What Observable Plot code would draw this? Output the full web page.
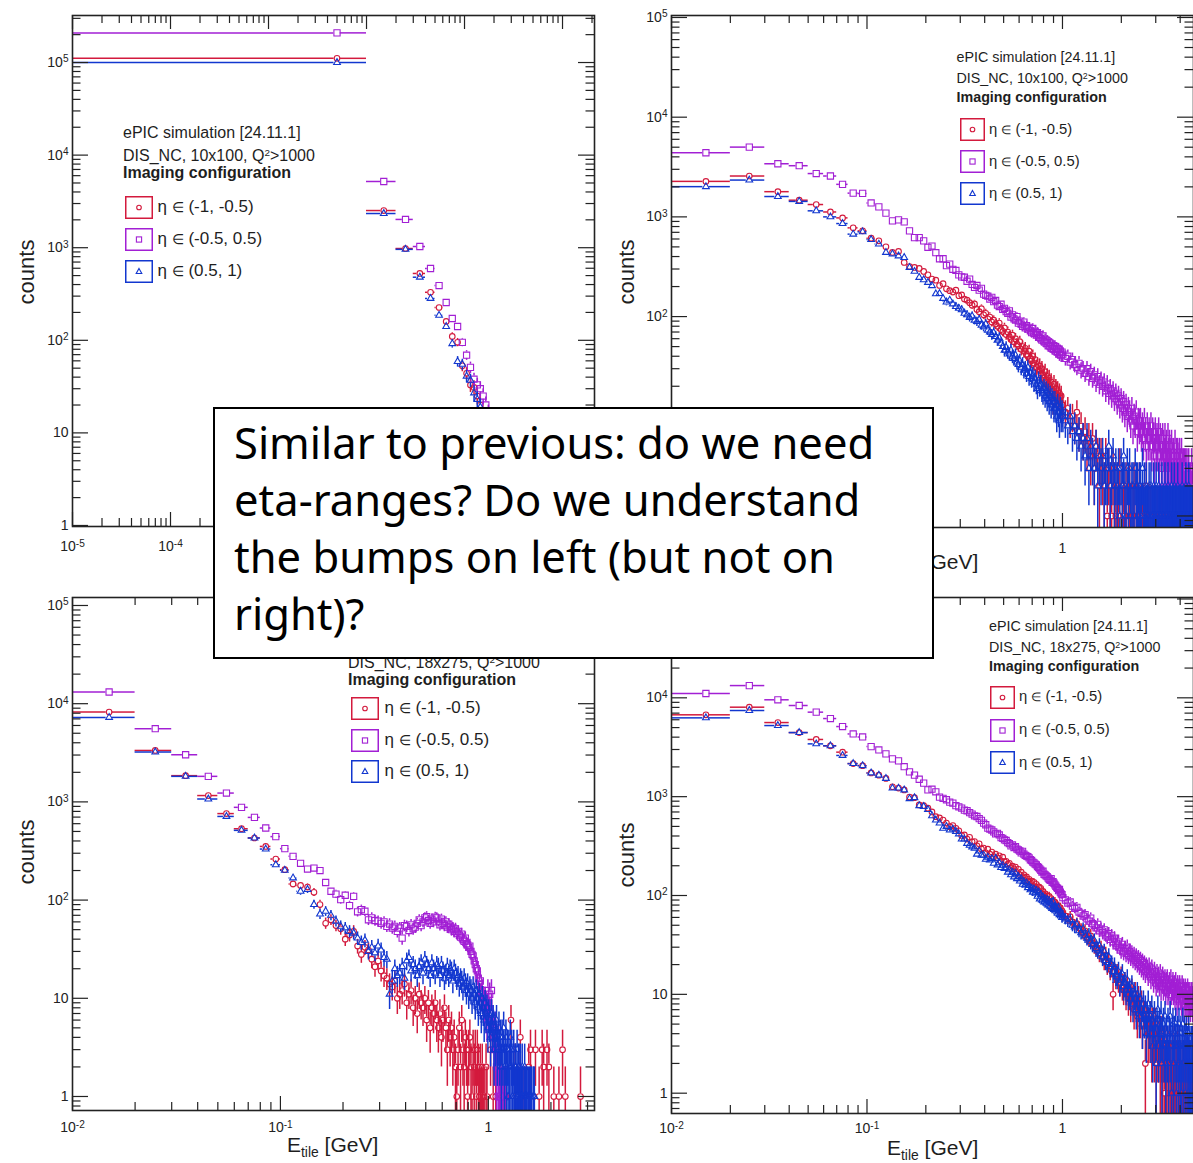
<!DOCTYPE html>
<html><head><meta charset="utf-8">
<script src="https://cdn.jsdelivr.net/npm/d3@7"></script>
<script src="https://cdn.jsdelivr.net/npm/@observablehq/plot@0.6"></script>
<style>
body{margin:0;background:#fff;}
#page{position:relative;width:1193px;height:1163px;overflow:hidden;background:#fff;font-family:"Liberation Sans",Arial,Helvetica,sans-serif;color:#1e1e1e;}
.pan{position:absolute;}
.t{position:absolute;white-space:nowrap;}
sup.q{font-size:0.62em;vertical-align:0.5em;line-height:0;}
sub.s{font-size:0.66em;vertical-align:-0.38em;line-height:0;}
span.el{font-size:0.82em;}
#note{position:absolute;left:213px;top:407px;width:721px;height:252px;box-sizing:border-box;border:2px solid #000;background:#fff;padding:5px 0 0 19px;font-family:"Noto Sans","Open Sans",sans-serif;font-size:43.5px;line-height:57px;color:#000;white-space:nowrap;}
</style></head>
<body><div id="page"></div>
<script>
// ================= DATA =================
const etaLabels = ["η ∈ (-1, -0.5)", "η ∈ (-0.5, 0.5)", "η ∈ (0.5, 1)"];
const headTop = ["ePIC simulation [24.11.1]", "DIS_NC, 10x100, Q<sup class='q'>2</sup>>1000", "Imaging configuration"];
const headBot = ["ePIC simulation [24.11.1]", "DIS_NC, 18x275, Q<sup class='q'>2</sup>>1000", "Imaging configuration"];
const noteLines = ["Similar to previous: do we need", "eta-ranges? Do we understand", "the bumps on left (but not on", "right)?"];
const yTitle = "counts";
const xTitle = "E<sub class='s'>tile</sub> [GeV]";

// bin structure (bin width 0.01 GeV)
const binStep = 0.01;
const tlStart = 0.005;      // top-left: first bin centre
const binStart = 0.015;     // other panels: first visible bin centre
const tailStart = 1.005, tailStep = 0.03;  // sampled tail bins above 1 GeV

// ---- top-left (10x100) ----
const tlRed  = [111000, 2520, 980, 527, 330, 226, 160, 110, 95, 53, 44, 33, 31, 25, 20, 15, 12, 8, 6, 4, 3, 2, 1];
const tlMag  = [209000, 5190, 2020, 1030, 596, 390, 256, 172, 141, 95, 69, 51, 38, 33, 30, 25, 20, 16, 12, 9, 6, 4, 3, 1];
const tlBlue = [100000, 2340, 960, 480, 283, 186, 141, 92, 59, 55, 41, 37, 27, 23, 19, 14, 10, 7, 5, 3, 2, 1];

// ---- top-right (10x100) ----
const trRed = [2270, 2570, 1790, 1470, 1330, 1120, 977, 776, 724, 612,
  575, 501, 440, 450, 349, 318, 311, 304, 284, 262,
  238, 232, 205, 214, 190, 182, 176, 184, 162, 165,
  150, 146, 138, 130, 134, 118, 112, 120, 104, 108,
  95, 99, 88, 92, 84, 80, 86, 74, 71, 77,
  66, 70, 63, 59, 65, 56, 60, 53, 51, 56,
  47, 50, 45, 48, 42, 40, 45, 38, 36, 40,
  34, 37, 31, 33, 29, 32, 27, 30, 26, 24,
  28, 23, 25, 21, 24, 20, 22, 18, 14, 21,
  17, 19, 16, 18, 15, 17, 14, 16, 13];
const trRedTail = [13, 11, 12, 9, 10, 8, 11, 7, 8, 6,
  7, 5, 6, 4, 6, 3, 5, 4, 2, 4,
  3, 2, 4, 1, 3, 2, 1, 3, 2, 1,
  2, 1, 3, 0, 2, 1, 1, 2, 0, 1,
  2, 1, 0, 1, 2, 0, 1, 1, 0, 2,
  1, 0, 1, 1, 0, 1, 2, 0, 1, 0,
  1, 1, 0, 1, 0, 0, 1, 0, 1, 0,
  0, 1, 0, 1, 0, 0, 1, 0, 0, 1,
  0, 0, 1, 0, 1, 0, 0, 0, 1, 0,
  1, 0, 0, 1, 0, 0, 0, 1, 0, 0,
  0, 1, 0, 0, 0, 1, 0, 0, 0, 0,
  1, 0, 0, 0, 0, 1, 0, 0, 0, 0,
  0, 0, 1, 0];
const trMag = [4400, 5010, 3410, 3260, 2720, 2570, 2120, 1730, 1720, 1380,
  1260, 1090, 912, 933, 890, 724, 620, 620, 575, 495,
  510, 437, 380, 380, 324, 336, 298, 290, 262, 250,
  248, 226, 238, 210, 196, 205, 184, 192, 168, 163,
  160, 150, 156, 141, 145, 130, 126, 133, 118, 121,
  112, 108, 114, 99, 104, 95, 92, 100, 86, 90,
  84, 80, 88, 77, 81, 75, 78, 72, 69, 76,
  68, 71, 65, 69, 62, 66, 60, 58, 64, 56,
  59, 54, 57, 51, 55, 50, 53, 48, 51, 47,
  50, 45, 48, 44, 47, 42, 45, 41, 44];
const trMagTail = [42, 38, 40, 35, 37, 33, 31, 34, 29, 30,
  27, 30, 25, 28, 24, 26, 22, 25, 21, 23,
  20, 22, 18, 21, 17, 19, 16, 18, 15, 17,
  14, 16, 13, 15, 12, 14, 11, 13, 10, 12,
  11, 9, 12, 8, 10, 9, 11, 7, 9, 8,
  9, 7, 8, 6, 9, 7, 5, 8, 6, 7,
  6, 8, 5, 7, 6, 4, 7, 5, 6, 5,
  7, 4, 6, 5, 3, 6, 5, 4, 6, 4,
  5, 3, 6, 4, 5, 3, 4, 5, 2, 4,
  4, 3, 5, 2, 4, 3, 4, 2, 3, 4,
  3, 2, 4, 3, 2, 3, 1, 3, 2, 3,
  2, 3, 1, 2, 3, 1, 2, 2, 1, 3,
  1, 2, 1, 2];
const trBlue = [2010, 2340, 1600, 1430, 1150, 1000, 857, 671, 708, 592,
  533, 440, 425, 406, 391, 311, 284, 247, 234, 220,
  204, 169, 170, 152, 140, 146, 134, 126, 121, 117,
  108, 104, 98, 101, 92, 89, 93, 82, 79, 84,
  73, 70, 66, 69, 63, 58, 61, 54, 50, 46,
  49, 44, 42, 46, 40, 38, 41, 35, 33, 36,
  31, 33, 29, 30, 27, 31, 25, 27, 24, 26,
  22, 24, 21, 19, 23, 20, 21, 18, 17, 19,
  16, 18, 15, 17, 14, 16, 13, 15, 14, 12,
  14, 12, 10, 13, 11, 9, 12, 10, 11];
const trBlueTail = [10, 9, 8, 10, 7, 8, 6, 7, 5, 6,
  4, 6, 3, 5, 4, 3, 5, 2, 4, 3,
  4, 2, 3, 3, 5, 2, 3, 4, 2, 3,
  2, 3, 1, 3, 2, 4, 2, 1, 3, 2,
  3, 1, 2, 2, 1, 3, 2, 2, 1, 2,
  2, 1, 3, 1, 2, 1, 2, 1, 1, 2,
  1, 2, 1, 1, 2, 1, 1, 2, 1, 1,
  2, 1, 1, 1, 2, 1, 1, 1, 2, 1,
  1, 1, 2, 1, 1, 1, 1, 2, 1, 1,
  1, 2, 1, 1, 1, 1, 2, 1, 1, 1,
  1, 1, 1, 2, 1, 1, 1, 1, 1, 2,
  1, 1, 1, 1, 2, 1, 1, 1, 1, 1,
  1, 1, 1, 1];

// ---- bottom-left (18x275) ----
const blRed = [8220, 3340, 1850, 1160, 760, 533, 429, 352, 262, 204,
  146, 141, 136, 120, 90, 58, 63, 55, 51, 40,
  44, 48, 34, 28, 33, 31, 25, 21, 24, 19,
  17, 16, 14, 13, 15, 10, 11, 12, 14, 9,
  11, 12, 8, 10, 7, 11, 9, 8, 10, 6,
  9, 5, 8, 7, 9, 6, 5, 7, 4, 6,
  8, 5, 3, 6, 4, 5, 3, 4, 2, 1,
  3, 5, 2, 6, 3, 2, 4, 3, 1, 3,
  4, 2, 1, 3, 2, 3, 1, 3, 2, 1,
  2, 1, 2, 1, 1, 0, 2, 1, 0];
const blRedTailE = [1.025, 1.055, 1.085, 1.135, 1.175, 1.215, 1.285, 1.345, 1.425, 1.485, 1.565, 1.595, 1.655, 1.685, 1.755, 1.815, 1.845, 1.915, 1.955, 2.065, 2.185, 2.275, 2.345, 2.775];
const blRedTailN = [3, 1, 1, 2, 1, 1, 6, 2, 4, 1, 2, 3, 1, 3, 1, 3, 2, 3, 2, 1, 1, 3, 1, 1];
const blMag = [13150, 5560, 3020, 1820, 1230, 880, 695, 542, 443, 334,
  279, 237, 207, 212, 200, 151, 123, 115, 101, 112,
  88, 109, 76, 80, 77, 63, 66, 62, 61, 58,
  60, 54, 57, 52, 54, 48, 52, 41, 55, 54,
  49, 56, 51, 53, 58, 63, 55, 60, 66, 68,
  62, 58, 64, 60, 67, 66, 61, 56, 64, 58,
  55, 60, 53, 57, 54, 50, 52, 48, 51, 46,
  48, 44, 42, 45, 40, 38, 41, 36, 35, 33,
  34, 30, 28, 27, 24, 22, 20, 19, 16, 14,
  15, 11, 12, 10, 8, 9, 7, 6, 12];
const blMagTail = [9, 11, 7, 12, 6, 5, 4, 3, 5, 2, 3, 1, 2, 1, 1, 0, 1, 1, 0, 1, 0, 1];
const blBlue = [7250, 3220, 1820, 1070, 711, 513, 429, 331, 229, 201,
  168, 123, 128, 90, 72, 77, 70, 61, 54, 52,
  48, 46, 41, 37, 39, 30, 33, 29, 34, 31,
  26, 25, 11, 15, 20, 17, 18, 21, 16, 24,
  26, 19, 22, 20, 17, 21, 23, 18, 25, 22,
  20, 17, 23, 20, 18, 22, 21, 17, 22, 19,
  16, 18, 21, 17, 20, 19, 15, 20, 18, 16,
  17, 14, 16, 15, 13, 16, 14, 12, 14, 11,
  13, 12, 10, 13, 11, 9, 12, 10, 8, 11,
  9, 7, 10, 8, 6, 9, 7, 8, 5];
const blBlueTail = [7, 6, 4, 7, 5, 6, 3, 5, 4, 6, 3, 4, 5, 3, 4, 2, 4, 3, 5, 2,
  3, 4, 2, 3, 1, 3, 2, 4, 2, 3, 1, 2, 3, 1, 2, 2, 1, 3, 1, 2,
  2, 1, 2, 1, 1, 2, 1, 0, 1, 2, 1, 0, 1, 1, 0, 1, 0, 1, 0, 1,
  0, 1, 0, 0, 1, 0, 1];

// ---- bottom-right (18x275) ----
const brRed = [6730, 8040, 5620, 4450, 3790, 3270, 2820, 2160, 2060, 1740,
  1650, 1530, 1260, 1220, 1170, 990, 977, 825, 810, 764,
  700, 628, 610, 580, 540, 497, 510, 478, 452, 405,
  410, 372, 388, 350, 352, 318, 334, 296, 302, 270,
  294, 262, 275, 246, 262, 240, 252, 224, 244, 220,
  222, 208, 212, 192, 198, 186, 194, 170, 184, 162,
  172, 152, 162, 150, 154, 140, 146, 136, 140, 126,
  136, 120, 130, 114, 122, 108, 118, 104, 110, 100,
  104, 94, 99, 88, 98, 84, 93, 82, 88, 76,
  86, 75, 80, 72, 77, 70, 75, 66, 70];
const brRedTail = [66, 62, 58, 61, 54, 50, 52, 47, 45, 42,
  44, 38, 36, 39, 33, 31, 30, 28, 26, 29,
  24, 22, 25, 20, 21, 18, 19, 10, 17, 15,
  16, 14, 13, 15, 12, 11, 13, 10, 12, 9,
  10, 8, 11, 9, 7, 10, 8, 6, 9, 7,
  6, 8, 5, 7, 6, 2, 5, 6, 4, 5,
  4, 6, 3, 5, 4, 3, 5, 2, 4, 3,
  3, 4, 2, 3, 4, 2, 3, 1, 3, 2,
  2, 3, 2, 1, 3, 2, 2, 1, 2, 3,
  1, 2, 2, 1, 2, 1, 3, 1, 2, 1,
  2, 1, 1, 2, 1, 2, 1, 1, 1, 2,
  1, 1, 2, 1, 1, 1, 2, 1, 1, 1,
  1, 2, 1, 1];
const brMag = [11060, 13300, 9550, 8360, 7160, 6170, 5120, 4310, 4020, 3210,
  2970, 2710, 2410, 2300, 2010, 1780, 1650, 1500, 1370, 1170,
  1190, 1120, 990, 960, 930, 880, 860, 810, 790, 765,
  730, 720, 690, 665, 640, 630, 600, 575, 540, 520,
  480, 470, 460, 440, 420, 425, 410, 385, 378, 365,
  360, 342, 335, 318, 325, 306, 312, 295, 290, 282,
  270, 280, 262, 255, 250, 247, 240, 230, 226, 218,
  214, 208, 204, 196, 192, 186, 180, 172, 176, 164,
  162, 158, 155, 150, 146, 142, 148, 136, 138, 133,
  128, 124, 120, 118, 112, 115, 108, 104, 102];
const brMagTail = [95, 90, 84, 86, 78, 74, 76, 68, 66, 62,
  64, 58, 55, 59, 52, 50, 47, 51, 44, 46,
  42, 45, 40, 38, 41, 36, 39, 34, 37, 33,
  31, 34, 30, 28, 32, 27, 29, 26, 30, 25,
  27, 24, 26, 23, 25, 22, 24, 21, 23, 20,
  22, 19, 21, 18, 20, 17, 19, 18, 16, 19,
  17, 15, 18, 16, 14, 17, 15, 13, 16, 14,
  15, 13, 16, 12, 14, 15, 12, 13, 14, 11,
  13, 14, 11, 12, 13, 10, 14, 11, 12, 13,
  11, 12, 10, 13, 11, 9, 12, 10, 11, 12,
  10, 11, 9, 12, 10, 11, 8, 10, 11, 9,
  10, 9, 11, 8, 10, 9, 10, 8, 9, 10,
  9, 8, 10, 9];
const brBlue = [6270, 7440, 5240, 4450, 3420, 3270, 2610, 2160, 2060, 1740,
  1650, 1530, 1220, 1220, 1170, 955, 977, 810, 795, 740,
  640, 580, 540, 478, 500, 460, 470, 445, 420, 372,
  372, 336, 322, 310, 300, 262, 282, 255, 256, 232,
  244, 228, 236, 212, 238, 204, 214, 192, 202, 188,
  192, 172, 182, 162, 172, 154, 168, 148, 156, 140,
  148, 130, 138, 128, 134, 120, 126, 114, 118, 108,
  116, 106, 112, 98, 108, 92, 102, 90, 96, 86,
  92, 84, 90, 80, 88, 78, 84, 74, 86, 72,
  77, 73, 74, 66, 75, 64, 68, 65, 60];
const brBlueTail = [63, 58, 55, 57, 50, 48, 51, 44, 42, 46,
  39, 37, 40, 34, 32, 35, 29, 28, 31, 26,
  24, 27, 22, 21, 24, 19, 20, 17, 19, 16,
  15, 17, 13, 14, 16, 12, 13, 11, 14, 10,
  11, 9, 12, 8, 10, 9, 7, 10, 8, 6,
  9, 7, 5, 8, 6, 7, 4, 6, 8, 5,
  6, 4, 7, 3, 5, 6, 4, 2, 5, 7,
  3, 5, 4, 6, 2, 4, 5, 3, 6, 2,
  4, 3, 5, 2, 4, 6, 3, 1, 4, 5,
  2, 4, 3, 5, 1, 3, 4, 2, 5, 3,
  2, 4, 1, 3, 5, 2, 3, 4, 1, 3,
  4, 2, 3, 1, 4, 2, 3, 1, 2, 3,
  1, 3, 2, 1];

// tick labels shown (the rest is hidden behind the note in the reference)
const tlXLabels = [1e-5, 1e-4];
const tlYLabels = [1, 10, 100, 1e3, 1e4, 1e5];
const trXLabels = [1];
const trYLabels = [100, 1e3, 1e4, 1e5];
const blXLabels = [1e-2, 1e-1, 1];
const blYLabels = [1, 10, 100, 1e3, 1e4, 1e5];
const brXLabels = [1e-2, 1e-1, 1];
const brYLabels = [1, 10, 100, 1e3, 1e4];

// ================= RENDERING =================
const COLORS = {red: "#d31a3d", mag: "#a21fd4", blue: "#1237cf"};
const SYM = {
  red:  {symbol: "circle",   r: 2.8, gap: 2.9},
  mag:  {symbol: "square",   r: 3.5, gap: 3.2},
  blue: {symbol: "triangle", r: 2.5, gap: 3.0}
};
const page = document.getElementById("page");

const seq = (start, step, counts) => counts.map((n, i) => ({e: +(start + step * i).toFixed(4), n}));
const zip = (E, N) => E.map((e, i) => ({e, n: N[i]}));

function logTicks(d, minor) {
  const out = [];
  const p0 = Math.floor(Math.log10(d[0])), p1 = Math.ceil(Math.log10(d[1]));
  for (let p = p0; p <= p1; p++) {
    const ks = minor ? [2, 3, 4, 5, 6, 7, 8, 9] : [1];
    for (const k of ks) {
      const v = +(k * Math.pow(10, p)).toPrecision(6);
      if (v >= d[0] * 0.99999 && v <= d[1] * 1.00001) out.push(v);
    }
  }
  return out;
}
function fmt(v) {
  const p = Math.round(Math.log10(v));
  if (p === 0) return "1";
  if (p === 1) return "10";
  return "10^" + p;
}
// turn "10^p" labels into a real superscript
function supLabels(svg) {
  svg.querySelectorAll("text").forEach(t => {
    const m = /^10\^(-?\d+)$/.exec(t.textContent.trim());
    if (!m) return;
    const ns = "http://www.w3.org/2000/svg";
    while (t.firstChild) t.removeChild(t.firstChild);
    const a = document.createElementNS(ns, "tspan"); a.textContent = "10";
    const b = document.createElementNS(ns, "tspan"); b.textContent = m[1];
    b.setAttribute("dy", "-0.45em"); b.setAttribute("font-size", "0.72em");
    t.appendChild(a); t.appendChild(b);
  });
}

function drawPanel(cfg) {
  const {left, top, W, H, m, xd, yd, series, xPad, xLabels, yLabels} = cfg;
  const pw = W - m[1] - m[3], ph = H - m[0] - m[2];
  const lx = d3.scaleLog().domain(xd).range([m[3], W - m[1]]);
  const ly = d3.scaleLog().domain(yd).range([H - m[2], m[0]]);
  const marks = [];
  for (const s of series) {
    const st = SYM[s.key], col = COLORS[s.key];
    const pts = s.pts.filter(d => d.n > 0 && d.e > xd[0] && d.e < xd[1]).map(d => ({
      e: d.e, n: d.n,
      lo: Math.max(d.e - binStep / 2, xd[0]), hi: Math.min(d.e + binStep / 2, xd[1]),
      up: d.n + Math.sqrt(d.n), dn: Math.max(d.n - Math.sqrt(d.n), yd[0])
    }));
    const g = st.gap + 0.6;
    const base = {stroke: col, strokeWidth: 1.5, clip: true};
    marks.push(
      Plot.ruleY(pts.filter(d => lx(d.e) - lx(d.lo) > g), {y: "n", x1: "lo", x2: "e", insetRight: st.gap, ...base}),
      Plot.ruleY(pts.filter(d => lx(d.hi) - lx(d.e) > g), {y: "n", x1: "e", x2: "hi", insetLeft: st.gap, ...base}),
      Plot.ruleX(pts.filter(d => ly(d.n) - ly(d.up) > g), {x: "e", y1: "up", y2: "n", insetBottom: st.gap, ...base}),
      Plot.ruleX(pts.filter(d => ly(d.dn) - ly(d.n) > g), {x: "e", y1: "n", y2: "dn", insetTop: st.gap, ...base}),
      Plot.dot(pts, {x: "e", y: "n", symbol: st.symbol, r: st.r, stroke: col, fill: "none", strokeWidth: 1.1, clip: true})
    );
  }
  const tk = {stroke: "#222", strokeWidth: 1.2};
  const yMaj = logTicks(yd, false), yMin = logTicks(yd, true);
  const xMaj = logTicks(xd, false), xMin = logTicks(xd, true);
  const yM = 16, ym = 8.5, xM = 14, xm = 8;
  marks.push(
    Plot.tickY(yMaj, {y: d => d, insetRight: pw - yM, ...tk}),
    Plot.tickY(yMin, {y: d => d, insetRight: pw - ym, ...tk}),
    Plot.tickY(yMaj, {y: d => d, insetLeft: pw - yM, ...tk}),
    Plot.tickY(yMin, {y: d => d, insetLeft: pw - ym, ...tk}),
    Plot.tickX(xMaj, {x: d => d, insetTop: ph - xM, ...tk}),
    Plot.tickX(xMin, {x: d => d, insetTop: ph - xm, ...tk}),
    Plot.tickX(xMaj, {x: d => d, insetBottom: ph - xM, ...tk}),
    Plot.tickX(xMin, {x: d => d, insetBottom: ph - xm, ...tk}),
    Plot.frame({stroke: "#222", strokeWidth: 1.6}),
    Plot.axisY(yLabels, {anchor: "left", tickSize: 0, tickPadding: 4, tickFormat: fmt, fontSize: 14, label: null, fill: "#222"}),
    Plot.axisX(xLabels, {anchor: "bottom", tickSize: 0, tickPadding: xPad, tickFormat: fmt, fontSize: 14, label: null, fill: "#222"})
  );
  const chart = Plot.plot({
    width: W, height: H,
    marginTop: m[0], marginRight: m[1], marginBottom: m[2], marginLeft: m[3],
    x: {type: "log", domain: xd},
    y: {type: "log", domain: yd},
    style: {fontFamily: "'Liberation Sans', Arial, sans-serif", fontSize: "14px", background: "transparent", overflow: "visible", color: "#222"},
    marks
  });
  supLabels(chart);
  const div = document.createElement("div");
  div.className = "pan";
  div.style.left = left + "px"; div.style.top = top + "px";
  div.appendChild(chart);
  page.appendChild(div);
}

function txt(html, x, cy, size, extra) {
  const d = document.createElement("div");
  d.className = "t";
  d.innerHTML = html.replace("∈", "<span class='el'>∈</span>");
  d.style.left = x + "px";
  d.style.top = (cy - size * 0.6) + "px";
  d.style.fontSize = size + "px";
  d.style.lineHeight = (size * 1.2) + "px";
  if (extra) Object.assign(d.style, extra);
  page.appendChild(d);
  return d;
}
function vtxt(s, cx, cy, size) {
  const d = document.createElement("div");
  d.className = "t";
  d.textContent = s;
  d.style.fontSize = size + "px";
  d.style.lineHeight = size + "px";
  d.style.width = "120px";
  d.style.textAlign = "center";
  d.style.left = (cx - 60) + "px";
  d.style.top = (cy - size / 2) + "px";
  d.style.transform = "rotate(-90deg)";
  page.appendChild(d);
}
function xtitle(x, baseline, size) {
  const d = document.createElement("div");
  d.className = "t";
  d.innerHTML = xTitle;
  d.style.fontSize = size + "px";
  d.style.lineHeight = (size * 1.2) + "px";
  d.style.left = x + "px";
  d.style.top = (baseline - 0.93 * size) + "px";
  page.appendChild(d);
}
function legend(L) {
  L.heads.forEach((h, i) => {
    if (L.skip && L.skip.includes(i)) return;
    txt(h, L.hx, L.hy[i], L.hsize, i === 2 ? {fontWeight: "bold"} : null);
  });
  ["red", "mag", "blue"].forEach((k, i) => {
    const w = L.bw, h = L.bh, c = COLORS[k];
    const cx = w / 2, cy = h / 2;
    let mk;
    if (k === "red") mk = `<circle cx="${cx}" cy="${cy}" r="2.3" fill="none" stroke="${c}" stroke-width="1.1"/>`;
    else if (k === "mag") mk = `<rect x="${cx - 2.6}" y="${cy - 2.6}" width="5.2" height="5.2" fill="none" stroke="${c}" stroke-width="1.1"/>`;
    else mk = `<path d="M${cx},${cy - 3} L${cx + 2.8},${cy + 2} L${cx - 2.8},${cy + 2} Z" fill="none" stroke="${c}" stroke-width="1.1"/>`;
    const d = document.createElement("div");
    d.className = "t";
    d.style.left = L.bx + "px"; d.style.top = (L.by[i] - h / 2) + "px";
    d.innerHTML = `<svg width="${w}" height="${h}" style="display:block"><rect x="0.75" y="0.75" width="${w - 1.5}" height="${h - 1.5}" fill="none" stroke="${c}" stroke-width="1.5"/>${mk}</svg>`;
    page.appendChild(d);
    txt(etaLabels[i], L.tx, L.by[i], L.tsize);
  });
}

// ---- panels ----
drawPanel({
  left: 0, top: 0, W: 600, H: 598, m: [15, 6, 72, 72],
  xd: [1e-5, 2.12], yd: [0.975, 3.22e5], xPad: 15, xLabels: tlXLabels, yLabels: tlYLabels,
  series: [
    {key: "red", pts: seq(tlStart, binStep, tlRed)},
    {key: "mag", pts: seq(tlStart, binStep, tlMag)},
    {key: "blue", pts: seq(tlStart, binStep, tlBlue)}
  ]
});
drawPanel({
  left: 600, top: 0, W: 593, H: 598, m: [15, 0, 71, 71],
  xd: [0.01, 4.68], yd: [0.766, 1.047e5], xPad: 16, xLabels: trXLabels, yLabels: trYLabels,
  series: [
    {key: "red", pts: seq(binStart, binStep, trRed).concat(seq(tailStart, tailStep, trRedTail))},
    {key: "mag", pts: seq(binStart, binStep, trMag).concat(seq(tailStart, tailStep, trMagTail))},
    {key: "blue", pts: seq(binStart, binStep, trBlue).concat(seq(tailStart, tailStep, trBlueTail))}
  ]
});
drawPanel({
  left: 0, top: 590, W: 600, H: 573, m: [7, 6, 53, 72],
  xd: [0.01, 3.24], yd: [0.72, 1.206e5], xPad: 12, xLabels: blXLabels, yLabels: blYLabels,
  series: [
    {key: "red", pts: seq(binStart, binStep, blRed).concat(zip(blRedTailE, blRedTailN))},
    {key: "mag", pts: seq(binStart, binStep, blMag).concat(seq(tailStart, binStep, blMagTail))},
    {key: "blue", pts: seq(binStart, binStep, blBlue).concat(seq(tailStart, binStep, blBlueTail))}
  ]
});
drawPanel({
  left: 600, top: 590, W: 593, H: 573, m: [7, 0, 50, 71],
  xd: [0.01, 4.68], yd: [0.623, 1.035e5], xPad: 10, xLabels: brXLabels, yLabels: brYLabels,
  series: [
    {key: "red", pts: seq(binStart, binStep, brRed).concat(seq(tailStart, tailStep, brRedTail))},
    {key: "mag", pts: seq(binStart, binStep, brMag).concat(seq(tailStart, tailStep, brMagTail))},
    {key: "blue", pts: seq(binStart, binStep, brBlue).concat(seq(tailStart, tailStep, brBlueTail))}
  ]
});

// ---- axis titles ----
vtxt(yTitle, 27, 272, 22);
vtxt(yTitle, 627, 272, 22);
vtxt(yTitle, 27, 852, 22);
vtxt(yTitle, 627, 855, 22);
xtitle(887, 569, 21);   // mostly hidden behind the note, as in the reference
xtitle(287, 1152, 21);
xtitle(887, 1155, 21);

// ---- legends ----
legend({heads: headTop, hx: 123, hy: [133, 155.5, 173], hsize: 16, bx: 124.5, bw: 28, bh: 23, by: [207, 239.5, 271.5], tx: 157.5, tsize: 17});
legend({heads: headTop, hx: 956.5, hy: [58, 79, 97.7], hsize: 14.3, bx: 960, bw: 25, bh: 23, by: [129.5, 161.5, 193.5], tx: 989, tsize: 14.8});
legend({heads: headBot, hx: 348, hy: [640, 662.5, 680], hsize: 16, bx: 351, bw: 28, bh: 23, by: [708, 740, 771.5], tx: 384.5, tsize: 17, skip: [0]});
legend({heads: headBot, hx: 989, hy: [626.7, 648, 666.7], hsize: 14.3, bx: 990, bw: 25, bh: 23, by: [697, 730, 762.5], tx: 1019, tsize: 14.8});

// ---- annotation box ----
const note = document.createElement("div");
note.id = "note";
note.innerHTML = noteLines.join("<br>");
page.appendChild(note);
</script></body></html>
